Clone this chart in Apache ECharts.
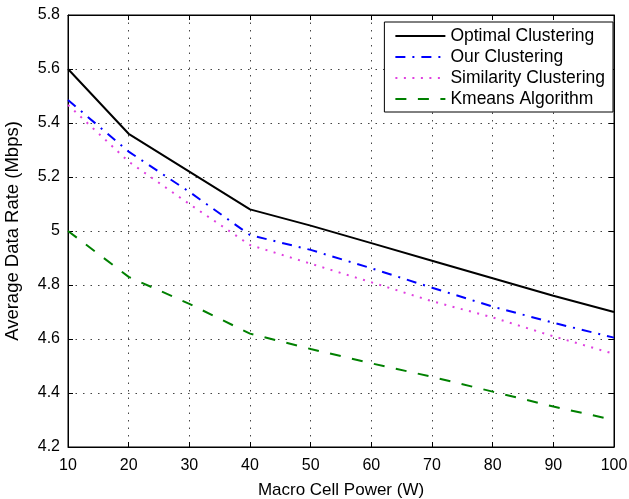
<!DOCTYPE html>
<html>
<head>
<meta charset="utf-8">
<script src="https://cdn.jsdelivr.net/npm/echarts@6/dist/echarts.min.js"></script>
<style>
  html, body { margin: 0; padding: 0; background: #fff; }
  #chart { width: 629px; height: 499px; }
</style>
</head>
<body>
<div id="chart"></div>
<script>
// x values (W)
const power = [10, 20, 30, 40, 50, 60, 70, 80, 90, 100]
// average data rate (Mbps)
const optimal = [5.60, 5.36, 5.22, 5.08, 5.02, 4.955, 4.89, 4.825, 4.76, 4.70]
const ours = [5.485, 5.294, 5.145, 4.985, 4.93, 4.862, 4.79, 4.72, 4.66, 4.605]
const similarity = [5.467, 5.257, 5.10, 4.948, 4.879, 4.81, 4.74, 4.68, 4.61, 4.545]
const kmeans = [5.0, 4.83, 4.73, 4.62, 4.563, 4.51, 4.46, 4.405, 4.35, 4.30]
const names = ['Optimal Clustering', 'Our Clustering', 'Similarity Clustering', 'Kmeans Algorithm']

const chart = echarts.init(document.getElementById('chart'))
const font = 'Liberation Sans, Arial, Helvetica, sans-serif'

function pairs(ys) {
  return power.map((x, i) => [x, ys[i]])
}

const gridLine = { show: true, lineStyle: { color: '#444', type: [1.5, 6], width: 1 } }

const option = {
  backgroundColor: '#fff',
  animation: false,
  textStyle: { fontFamily: font },
  grid: {
    left: 68, right: 15, top: 15, bottom: 52,
    outerBoundsMode: 'none', containLabel: false,
    show: true, borderColor: '#000', borderWidth: 1
  },
  legend: {
    orient: 'vertical',
    right: 16,
    top: 22,
    backgroundColor: '#fff',
    borderColor: '#000',
    borderWidth: 1,
    padding: [5, 8, 4, 10],
    itemWidth: 50,
    itemHeight: 14,
    itemGap: 3,
    itemStyle: { opacity: 0 },
    textStyle: { fontSize: 17.5, lineHeight: 18, color: '#000', fontFamily: font },
    data: names
  },
  xAxis: [
    {
      type: 'value', min: 10, max: 100, interval: 10,
      name: 'Macro Cell Power (W)', nameLocation: 'middle', nameGap: 35,
      nameTextStyle: { fontSize: 17, color: '#000', fontFamily: font },
      axisLine: { lineStyle: { color: '#000', width: 1 } },
      axisTick: { inside: true, length: 5, lineStyle: { color: '#000' } },
      axisLabel: { fontSize: 16, color: '#000', margin: 11, fontFamily: font },
      splitLine: gridLine
    },
    {
      type: 'value', min: 10, max: 100, interval: 10, position: 'top',
      axisLine: { lineStyle: { color: '#000' } },
      axisTick: { inside: true, length: 5, lineStyle: { color: '#000' } },
      axisLabel: { show: false }, splitLine: { show: false }
    }
  ],
  yAxis: [
    {
      type: 'value', min: 4.2, max: 5.8, interval: 0.2,
      name: 'Average Data Rate (Mbps)', nameLocation: 'middle', nameGap: 46,
      nameTextStyle: { fontSize: 18.5, color: '#000', fontFamily: font },
      axisLine: { show: true, lineStyle: { color: '#000', width: 1 } },
      axisTick: { show: true, inside: true, length: 5, lineStyle: { color: '#000' } },
      axisLabel: { fontSize: 16, color: '#000', margin: 8, fontFamily: font },
      splitLine: gridLine
    },
    {
      type: 'value', min: 4.2, max: 5.8, interval: 0.2, position: 'right',
      axisLine: { show: true, lineStyle: { color: '#000' } },
      axisTick: { show: true, inside: true, length: 5, lineStyle: { color: '#000' } },
      axisLabel: { show: false }, splitLine: { show: false }
    }
  ],
  series: [
    {
      name: names[0], type: 'line', data: pairs(optimal), symbol: 'none',
      itemStyle: { color: '#000' },
      lineStyle: { color: '#000', width: 2, type: 'solid' }
    },
    {
      name: names[1], type: 'line', data: pairs(ours), symbol: 'none',
      itemStyle: { color: '#0000ff' },
      lineStyle: { color: '#0000ff', width: 2, type: [10, 7, 2, 7] }
    },
    {
      name: names[2], type: 'line', data: pairs(similarity), symbol: 'none',
      itemStyle: { color: '#e040e0' },
      lineStyle: { color: '#e040e0', width: 2, type: [2, 6.5] }
    },
    {
      name: names[3], type: 'line', data: pairs(kmeans), symbol: 'none',
      itemStyle: { color: '#008000' },
      lineStyle: { color: '#008000', width: 2, type: [11, 11.5] }
    }
  ]
}

chart.setOption(option)
</script>
</body>
</html>
